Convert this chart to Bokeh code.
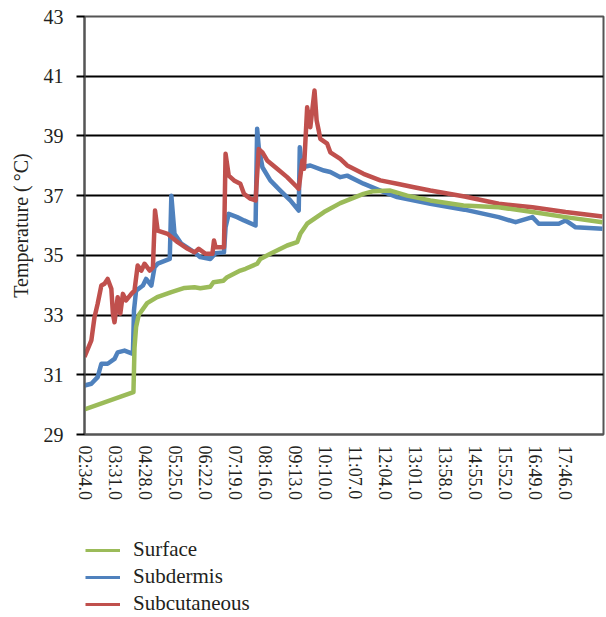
from bokeh.plotting import figure
from bokeh.layouts import column
from bokeh.models import Legend, LegendItem, FixedTicker, Range1d
from bokeh.embed import file_html
from bokeh.resources import INLINE

# time axis labels (mm:ss.0)
tick_labels = ["02:34.0", "03:31.0", "04:28.0", "05:25.0", "06:22.0", "07:19.0",
               "08:16.0", "09:13.0", "10:10.0", "11:07.0", "12:04.0", "13:01.0",
               "13:58.0", "14:55.0", "15:52.0", "16:49.0", "17:46.0"]

series_names = ["Surface", "Subdermis", "Subcutaneous"]

# Surface (seconds, °C)
surface_t = [154, 247, 249, 252, 257, 273, 292, 319, 344, 363, 374, 393, 399, 418, 425,
             450, 460, 482, 488, 507, 539, 558, 564, 577, 609, 640, 653, 684, 703, 735,
             767, 811, 874, 941, 1005, 1068, 1138]
surface_v = [29.84, 30.42, 31.9, 32.6, 33.0, 33.4, 33.6, 33.77, 33.91, 33.93, 33.9, 33.95,
             34.1, 34.15, 34.27, 34.49, 34.55, 34.72, 34.88, 35.05, 35.33, 35.44, 35.72,
             36.06, 36.45, 36.75, 36.84, 37.06, 37.15, 37.17, 37.0, 36.84, 36.67, 36.61,
             36.45, 36.28, 36.11]

# Subdermis
subdermis_t = [154, 167, 179, 186, 198, 211, 217, 230, 246, 248, 252, 265, 271, 281, 287,
               293, 316, 319, 325, 338, 363, 374, 393, 403, 419, 422, 428, 444, 457, 479,
               482, 485, 492, 507, 526, 545, 561, 563, 567, 583, 609, 621, 640, 653, 684,
               716, 748, 811, 876, 941, 973, 1005, 1017, 1055, 1068, 1087, 1138]
subdermis_v = [30.64, 30.70, 30.92, 31.37, 31.37, 31.53, 31.75, 31.81, 31.70, 33.15, 33.82,
               33.99, 34.21, 33.99, 34.6, 34.72, 34.88, 37.0, 35.72, 35.39, 35.1, 34.94,
               34.88, 35.07, 35.1, 35.94, 36.39, 36.28, 36.17, 36.0, 39.24, 38.62, 37.95,
               37.51, 37.17, 36.84, 36.5, 38.62, 37.95, 38.01, 37.84, 37.79, 37.62, 37.67,
               37.4, 37.17, 36.95, 36.73, 36.53, 36.28, 36.11, 36.28, 36.06, 36.06, 36.17,
               35.94, 35.89]

# Subcutaneous
subcut_t = [154, 167, 173, 179, 186, 192, 198, 205, 208, 211, 217, 222, 227, 233, 243, 249,
            255, 262, 268, 278, 284, 288, 293, 312, 331, 350, 363, 371, 384, 397, 400, 403,
            419, 422, 428, 438, 450, 457, 469, 479, 485, 492, 501, 520, 539, 558, 561, 568,
            571, 577, 583, 591, 595, 599, 602, 615, 621, 640, 653, 684, 716, 748, 780, 811,
            876, 941, 1005, 1068, 1138]
subcut_v = [31.6, 32.15, 32.93, 33.38, 33.99, 34.05, 34.21, 33.88, 33.04, 32.76, 33.6, 33.05,
            33.71, 33.49, 33.71, 33.82, 34.66, 34.49, 34.72, 34.49, 34.6, 36.5, 35.83, 35.72,
            35.44, 35.22, 35.1, 35.22, 35.05, 35.05, 35.5, 35.27, 35.27, 38.4, 37.67, 37.51,
            37.4, 37.06, 36.9, 36.84, 38.56, 38.45, 38.18, 37.9, 37.62, 37.28, 37.23, 38.18,
            37.9, 39.96, 39.29, 40.52, 39.52, 39.18, 38.9, 38.74, 38.45, 38.23, 38.01, 37.73,
            37.51, 37.4, 37.28, 37.17, 36.97, 36.73, 36.61, 36.45, 36.3]

y_ticks = [29, 31, 33, 35, 37, 39, 41, 43]
colors = {"Surface": "#9BBB59", "Subdermis": "#4F81BD", "Subcutaneous": "#C0504D"}
series = {"Surface": (surface_t, surface_v),
          "Subdermis": (subdermis_t, subdermis_v),
          "Subcutaneous": (subcut_t, subcut_v)}


def to_sec(lbl):
    mm, ss = lbl.split(":")
    return int(mm) * 60 + float(ss)


tick_pos = [to_sec(l) for l in tick_labels]

FONT = "Liberation Serif"
TXT = "#231f20"

p = figure(width=606, height=520, output_backend="svg", toolbar_location=None,
           x_range=Range1d(154, 1140), y_range=Range1d(29, 43),
           min_border_left=84, min_border_right=3, min_border_top=16, min_border_bottom=86)

p.outline_line_color = "#555555"
p.outline_line_width = 2

# grid
p.xgrid.visible = False
p.ygrid.ticker = FixedTicker(ticks=y_ticks)
p.ygrid.grid_line_color = "black"
p.ygrid.grid_line_width = 2

# y axis
p.yaxis.ticker = FixedTicker(ticks=y_ticks)
p.yaxis.axis_label = "Temperature (\u2009°C)"
p.yaxis.axis_label_text_font = FONT
p.yaxis.axis_label_text_font_style = "normal"
p.yaxis.axis_label_text_font_size = "20px"
p.yaxis.axis_label_text_color = TXT
p.yaxis.axis_label_standoff = 9
p.yaxis.major_label_text_font = FONT
p.yaxis.major_label_text_font_size = "20px"
p.yaxis.major_label_text_color = TXT
p.yaxis.major_label_standoff = 13
p.yaxis.major_tick_out = 8
p.yaxis.major_tick_in = 0
p.yaxis.major_tick_line_color = "black"
p.yaxis.major_tick_line_width = 2
p.yaxis.minor_tick_line_color = None
p.yaxis.axis_line_color = "#555555"
p.yaxis.axis_line_width = 2

# x axis
p.xaxis.ticker = FixedTicker(ticks=tick_pos)
p.xaxis.major_label_overrides = {t: l for t, l in zip(tick_pos, tick_labels)}
p.xaxis.major_label_orientation = "vertical"
p.xaxis.major_label_text_font = FONT
p.xaxis.major_label_text_font_size = "18px"
p.xaxis.major_label_text_color = TXT
p.xaxis.major_label_standoff = 11
p.xaxis.major_tick_out = 0
p.xaxis.major_tick_in = 0
p.xaxis.minor_tick_line_color = None
p.xaxis.axis_line_color = "#555555"
p.xaxis.axis_line_width = 2

# lines (blue under red under green)
for name in ["Subdermis", "Subcutaneous", "Surface"]:
    t, v = series[name]
    p.line(t, v, line_color=colors[name], line_width=4.5, line_join="round")

# legend panel below the chart (series drawn off-range, only the legend shows)
pl = figure(width=606, height=97, output_backend="svg", toolbar_location=None,
            x_range=Range1d(154, 1140), y_range=Range1d(0, 1),
            x_axis_location=None, y_axis_location=None,
            min_border_left=84, min_border_right=3, min_border_top=0, min_border_bottom=0)
pl.grid.visible = False
pl.outline_line_color = None
items = []
for name in series_names:
    t, v = series[name]
    r = pl.line(t, v, line_color=colors[name], line_width=3)
    items.append(LegendItem(label=name, renderers=[r]))

legend = Legend(items=items, location=(1, 1), orientation="vertical")
legend.padding = 0
legend.margin = 0
legend.spacing = 2
legend.glyph_width = 35
legend.glyph_height = 18
legend.label_height = 18
legend.label_standoff = 13
legend.label_text_font = FONT
legend.label_text_font_size = "21px"
legend.label_text_color = TXT
legend.border_line_color = None
legend.background_fill_alpha = 0
pl.add_layout(legend, "center")

layout = column(p, pl, spacing=0)
open("out.html", "w").write(file_html(layout, INLINE))
